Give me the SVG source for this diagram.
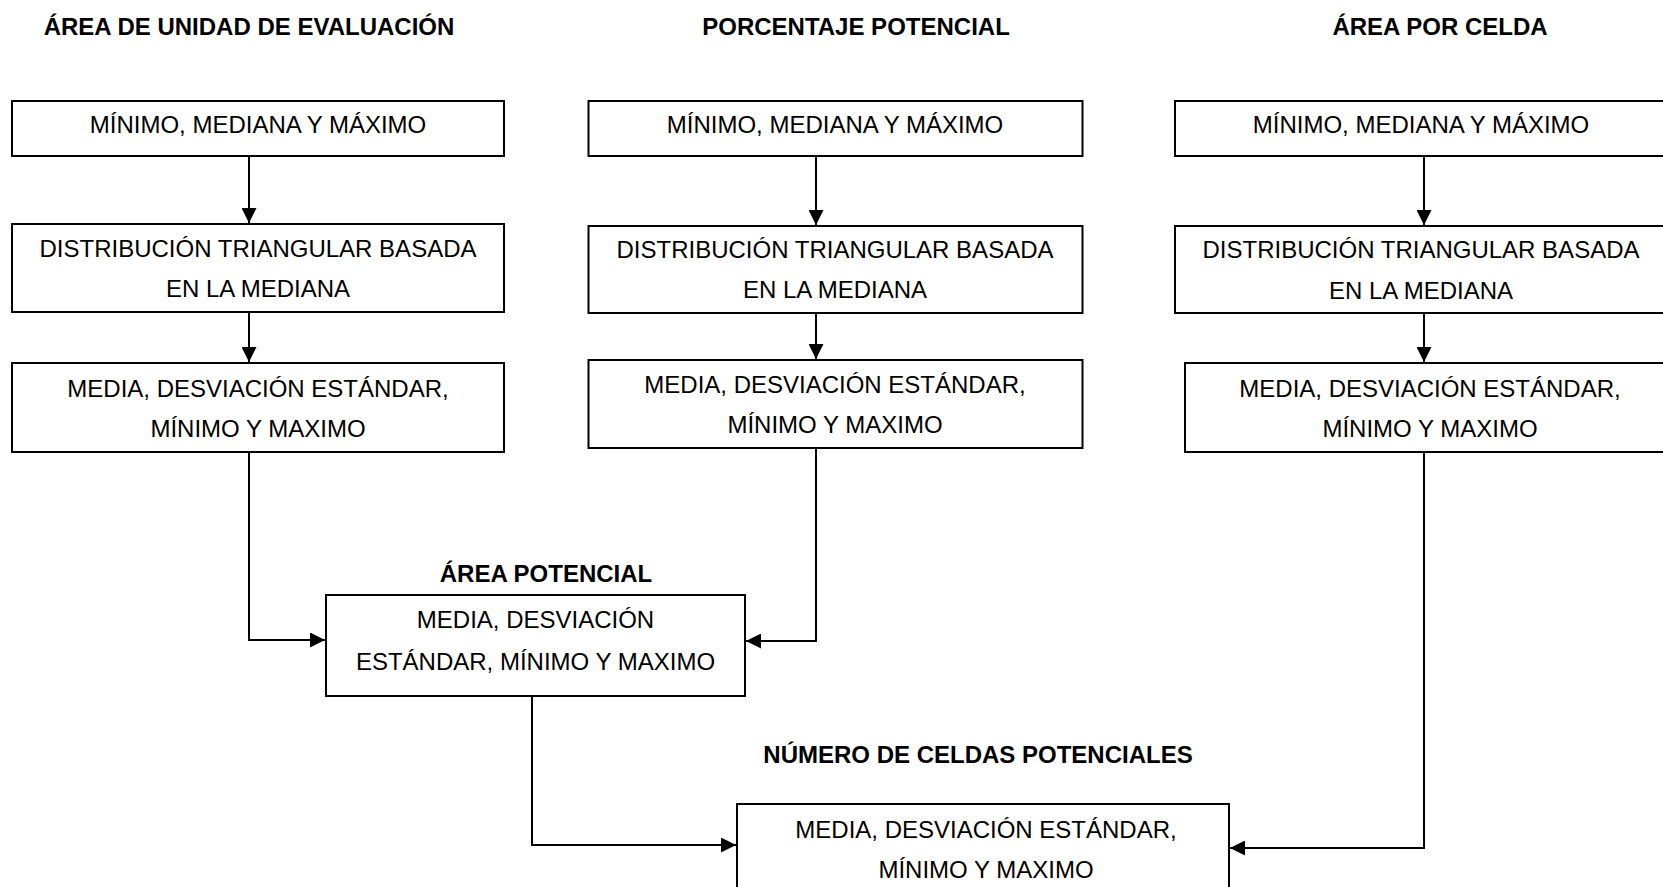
<svg xmlns="http://www.w3.org/2000/svg" width="1663" height="887" viewBox="0 0 1663 887">
<defs>
<style>
.box{fill:#fff;stroke:#000;stroke-width:2}
.t{font-family:"Liberation Sans",Arial,sans-serif;font-size:24px;fill:#000;text-anchor:middle}
.h{font-family:"Liberation Sans",Arial,sans-serif;font-size:24px;font-weight:bold;fill:#000;text-anchor:middle}
.c{fill:none;stroke:#000;stroke-width:2}
</style>
<marker id="ah" markerUnits="userSpaceOnUse" markerWidth="15" markerHeight="15" refX="15" refY="7.5" orient="auto" viewBox="0 0 15 15">
<path d="M0,0 L15,7.5 L0,15 z" fill="#000"/>
</marker>
</defs>
<rect width="1663" height="887" fill="#fff"/>
<g id="titles">
<text class="h" x="249" y="35">ÁREA DE UNIDAD DE EVALUACIÓN</text>
<text class="h" x="856" y="35">PORCENTAJE POTENCIAL</text>
<text class="h" x="1440" y="35">ÁREA POR CELDA</text>
<text class="h" x="546" y="582">ÁREA POTENCIAL</text>
<text class="h" x="978" y="763">NÚMERO DE CELDAS POTENCIALES</text>
</g>
<g id="connectors">
<path class="c" d="M249,156 V223" marker-end="url(#ah)"/>
<path class="c" d="M249,312 V362" marker-end="url(#ah)"/>
<path class="c" d="M816,156 V225" marker-end="url(#ah)"/>
<path class="c" d="M816,313 V359" marker-end="url(#ah)"/>
<path class="c" d="M1424,156 V225" marker-end="url(#ah)"/>
<path class="c" d="M1424,313 V362" marker-end="url(#ah)"/>
<path class="c" d="M249,452 V640 H325" marker-end="url(#ah)"/>
<path class="c" d="M816,448 V641 H746" marker-end="url(#ah)"/>
<path class="c" d="M532,696 V845 H736" marker-end="url(#ah)"/>
<path class="c" d="M1424,452 V848 H1230" marker-end="url(#ah)"/>
</g>
<g id="n1a"><rect class="box" x="12" y="101" width="492" height="55"/><text class="t" x="258" y="133">MÍNIMO, MEDIANA Y MÁXIMO</text></g>
<g id="n1b"><rect class="box" x="12" y="224" width="492" height="88"/><text class="t" x="258" y="257">DISTRIBUCIÓN TRIANGULAR BASADA</text><text class="t" x="258" y="297">EN LA MEDIANA</text></g>
<g id="n1c"><rect class="box" x="12" y="363" width="492" height="89"/><text class="t" x="258" y="397">MEDIA, DESVIACIÓN ESTÁNDAR,</text><text class="t" x="258" y="437">MÍNIMO Y MAXIMO</text></g>
<g id="n2a"><rect class="box" x="588.5" y="101" width="494" height="55"/><text class="t" x="835" y="133">MÍNIMO, MEDIANA Y MÁXIMO</text></g>
<g id="n2b"><rect class="box" x="588.5" y="226" width="494" height="87"/><text class="t" x="835" y="258">DISTRIBUCIÓN TRIANGULAR BASADA</text><text class="t" x="835" y="298">EN LA MEDIANA</text></g>
<g id="n2c"><rect class="box" x="588.5" y="360" width="494" height="88"/><text class="t" x="835" y="393">MEDIA, DESVIACIÓN ESTÁNDAR,</text><text class="t" x="835" y="433">MÍNIMO Y MAXIMO</text></g>
<g id="n3a"><rect class="box" x="1175" y="101" width="494" height="55"/><text class="t" x="1421" y="133">MÍNIMO, MEDIANA Y MÁXIMO</text></g>
<g id="n3b"><rect class="box" x="1175" y="226" width="494" height="87"/><text class="t" x="1421" y="258">DISTRIBUCIÓN TRIANGULAR BASADA</text><text class="t" x="1421" y="299">EN LA MEDIANA</text></g>
<g id="n3c"><rect class="box" x="1185" y="363" width="492" height="89"/><text class="t" x="1430" y="397">MEDIA, DESVIACIÓN ESTÁNDAR,</text><text class="t" x="1430" y="437">MÍNIMO Y MAXIMO</text></g>
<g id="n4"><rect class="box" x="326" y="595" width="419" height="101"/><text class="t" x="535.5" y="628">MEDIA, DESVIACIÓN</text><text class="t" x="535.5" y="670">ESTÁNDAR, MÍNIMO Y MAXIMO</text></g>
<g id="n5"><rect class="box" x="737" y="804" width="492" height="100"/><text class="t" x="986" y="838">MEDIA, DESVIACIÓN ESTÁNDAR,</text><text class="t" x="986" y="878">MÍNIMO Y MAXIMO</text></g>
</svg>
